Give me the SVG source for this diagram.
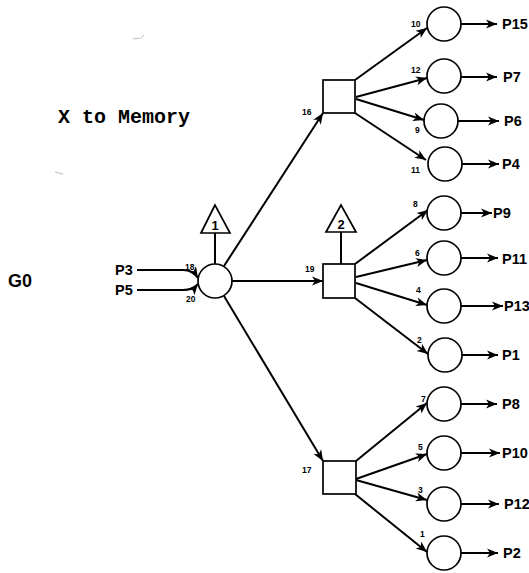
<svg xmlns="http://www.w3.org/2000/svg" width="529" height="573" viewBox="0 0 529 573">
<defs>
<marker id="ah" markerUnits="userSpaceOnUse" markerWidth="12" markerHeight="10" refX="11" refY="4.5" orient="auto" overflow="visible">
<path d="M0,0 L11,4.5 L0,9 L3,4.5 Z" fill="#000"/>
</marker>
</defs>
<style>
.ln{stroke:#000;stroke-width:2;fill:none}
.ar{stroke:#000;stroke-width:2;fill:none;marker-end:url(#ah)}
.nd{stroke:#000;stroke-width:1.7;fill:#fff}
.pl{font-family:"Liberation Sans",Arial,sans-serif;font-weight:bold;font-size:14.5px;fill:#000}
.nm{font-family:"Liberation Sans",Arial,sans-serif;font-weight:bold;font-size:8.5px;fill:#000}
.tri{font-family:"Liberation Sans",Arial,sans-serif;font-weight:bold;font-size:13px;fill:#000;text-anchor:middle}
.ttl{font-family:"Liberation Mono","Courier New",monospace;font-weight:bold;font-size:20px;fill:#000}
.g0{font-family:"Liberation Sans",Arial,sans-serif;font-weight:bold;font-size:18px;fill:#000}
.st{stroke:#aaa;stroke-width:0.8;fill:none}
</style>
<rect width="529" height="573" fill="#fff"/>
<line class="st" x1="133" y1="39" x2="140" y2="38"/>
<line class="st" x1="141" y1="38" x2="144" y2="35"/>
<line class="st" x1="55" y1="172" x2="63" y2="174"/>
<text class="ttl" x="58" y="123">X to Memory</text>
<text class="g0" x="8" y="287">G0</text>

<g id="connectors">
<path class="ar" d="M137,270 L183,270 Q193,270 198,278"/>
<path class="ar" d="M137,290 L183,290 Q193,290 198,284"/>
<line class="ln" x1="215" y1="233" x2="215" y2="265"/>
<line class="ln" x1="341" y1="232" x2="341" y2="264"/>
<line class="ar" x1="224" y1="266" x2="323" y2="113"/>
<line class="ar" x1="232" y1="281" x2="323" y2="281"/>
<line class="ar" x1="224" y1="296" x2="323" y2="461"/>
<line class="ar" x1="355" y1="80" x2="427" y2="28"/>
<line class="ar" x1="356" y1="97" x2="427" y2="78"/>
<line class="ar" x1="356" y1="99" x2="424" y2="120"/>
<line class="ar" x1="355" y1="113" x2="426" y2="160"/>
<line class="ar" x1="355" y1="264" x2="428" y2="210"/>
<line class="ar" x1="356" y1="277" x2="427" y2="260"/>
<line class="ar" x1="356" y1="283" x2="427" y2="305"/>
<line class="ar" x1="355" y1="298" x2="428" y2="354"/>
<line class="ar" x1="356" y1="461" x2="427" y2="403"/>
<line class="ar" x1="356" y1="479" x2="427" y2="454"/>
<line class="ar" x1="356" y1="480" x2="427" y2="500"/>
<line class="ar" x1="355" y1="494" x2="427" y2="552"/>
<line class="ar" x1="461" y1="24" x2="497" y2="24"/>
<line class="ar" x1="461" y1="77" x2="497" y2="77"/>
<line class="ar" x1="458" y1="121" x2="499" y2="121"/>
<line class="ar" x1="462" y1="164" x2="499" y2="164"/>
<line class="ar" x1="461" y1="213" x2="492" y2="213"/>
<line class="ar" x1="461" y1="258" x2="498" y2="258"/>
<line class="ar" x1="461" y1="306" x2="503" y2="306"/>
<line class="ar" x1="462" y1="355" x2="498" y2="355"/>
<line class="ar" x1="461" y1="404" x2="497" y2="404"/>
<line class="ar" x1="461" y1="453" x2="500" y2="453"/>
<line class="ar" x1="461" y1="504" x2="499" y2="504"/>
<line class="ar" x1="461" y1="553" x2="498" y2="553"/>
</g>

<g id="in-P3"><text class="pl" x="115" y="275">P3</text><text class="nm" x="185" y="270">18</text></g>
<g id="in-P5"><text class="pl" x="115" y="295">P5</text><text class="nm" x="186" y="302">20</text></g>

<g id="tri1"><polygon class="nd" points="215,205 201,233 230,233"/><text class="tri" x="215" y="230">1</text></g>
<g id="tri2"><polygon class="nd" points="341,205 326,232 356,232"/><text class="tri" x="341" y="229">2</text></g>

<g id="center"><circle class="nd" cx="215" cy="281" r="17"/></g>

<g id="sq16"><rect class="nd" x="323" y="80" width="32" height="33"/><text class="nm" x="302" y="115">16</text></g>
<g id="sq19"><rect class="nd" x="323" y="264" width="32" height="34"/><text class="nm" x="305" y="272">19</text></g>
<g id="sq17"><rect class="nd" x="323" y="461" width="33" height="33"/><text class="nm" x="302" y="473">17</text></g>

<g id="n10"><circle class="nd" cx="444" cy="24" r="17"/><text class="nm" x="411" y="27">10</text><text class="pl" x="502" y="29">P15</text></g>
<g id="n12"><circle class="nd" cx="444" cy="76" r="17"/><text class="nm" x="411" y="73">12</text><text class="pl" x="503" y="82">P7</text></g>
<g id="n9"><circle class="nd" cx="441" cy="121" r="17"/><text class="nm" x="415" y="133">9</text><text class="pl" x="504" y="126">P6</text></g>
<g id="n11"><circle class="nd" cx="445" cy="164" r="17"/><text class="nm" x="411" y="173">11</text><text class="pl" x="502" y="169">P4</text></g>

<g id="n8"><circle class="nd" cx="444" cy="213" r="17"/><text class="nm" x="413" y="207">8</text><text class="pl" x="493" y="218">P9</text></g>
<g id="n6"><circle class="nd" cx="444" cy="258" r="17"/><text class="nm" x="415" y="256">6</text><text class="pl" x="502" y="264">P11</text></g>
<g id="n4"><circle class="nd" cx="444" cy="306" r="17"/><text class="nm" x="416" y="293">4</text><text class="pl" x="504" y="311">P13</text></g>
<g id="n2"><circle class="nd" cx="445" cy="355" r="17"/><text class="nm" x="417" y="343">2</text><text class="pl" x="502" y="360">P1</text></g>

<g id="n7"><circle class="nd" cx="444" cy="404" r="17"/><text class="nm" x="421" y="402">7</text><text class="pl" x="502" y="409">P8</text></g>
<g id="n5"><circle class="nd" cx="444" cy="453" r="17"/><text class="nm" x="418" y="450">5</text><text class="pl" x="502" y="458">P10</text></g>
<g id="n3"><circle class="nd" cx="444" cy="504" r="17"/><text class="nm" x="418" y="493">3</text><text class="pl" x="504" y="509">P12</text></g>
<g id="n1"><circle class="nd" cx="444" cy="553" r="17"/><text class="nm" x="420" y="537">1</text><text class="pl" x="503" y="558">P2</text></g>
</svg>
